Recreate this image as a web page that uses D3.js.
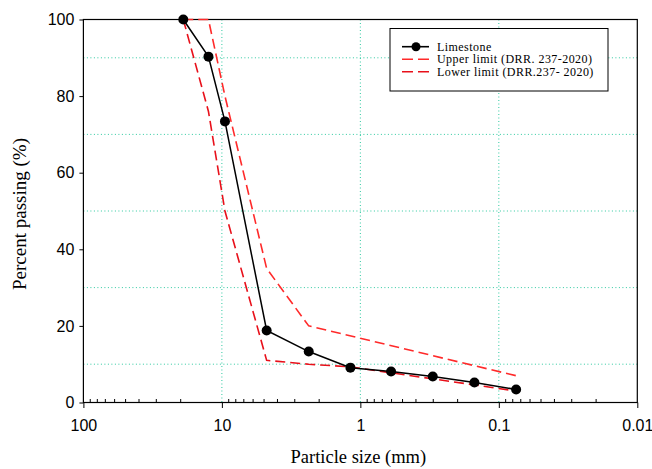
<!DOCTYPE html>
<html>
<head>
<meta charset="utf-8">
<script src="https://cdn.jsdelivr.net/npm/d3@7"></script>
<style>
  html, body { margin: 0; padding: 0; background: #fff; }
  svg { display: block; }
</style>
</head>
<body>
<svg id="chart" width="652" height="469"></svg>
<script>
// Sieve sizes (mm) and percent passing for the limestone aggregate
const sieveSizes = [19, 12.5, 9.5, 4.75, 2.36, 1.18, 0.6, 0.3, 0.15, 0.075];
const limestone  = [100, 90.3, 73.4, 18.8, 13.3, 9.1, 8.1, 6.8, 5.2, 3.4];

// Gradation envelope (DRR 237-2020)
const upperSizes  = [19, 12.5, 9.5, 4.75, 2.36, 0.075];
const upperLimit  = [100, 100, 80, 35, 20, 7];
const lowerSizes  = [19, 12.5, 9.5, 4.75, 2.36, 1.18, 0.075];
const lowerLimit  = [100, 76, 50, 11, 10, 9.3, 3];

// Axis ticks
const xMajorTicks = [100, 10, 1, 0.1, 0.01];
const xTickLabels = ["100", "10", "1", "0.1", "0.01"];
const yMajorTicks = [0, 20, 40, 60, 80, 100];
const yGridValues = [10, 30, 50, 70, 90];
const xGridValues = [10, 1, 0.1];

const legendLabels = ["Limestone", "Upper limit (DRR. 237-2020)", "Lower limit (DRR.237- 2020)"];

const svg = d3.select("#chart");
const plot = { left: 83.4, right: 637.3, top: 19.5, bottom: 402.5 };

const x = d3.scaleLog().domain([100, 0.01]).range([plot.left, plot.right]);
const y = d3.scaleLinear().domain([0, 100]).range([plot.bottom, plot.top]);

const gridColor = "#2ec9a0";

// Dotted grid
svg.append("g").selectAll("line").data(yGridValues).join("line")
  .attr("x1", plot.left).attr("x2", plot.right)
  .attr("y1", d => y(d)).attr("y2", d => y(d))
  .attr("stroke", gridColor).attr("stroke-width", 1)
  .attr("stroke-dasharray", "1,2.5");
svg.append("g").selectAll("line").data(xGridValues).join("line")
  .attr("x1", d => x(d)).attr("x2", d => x(d))
  .attr("y1", plot.top).attr("y2", plot.bottom)
  .attr("stroke", gridColor).attr("stroke-width", 1)
  .attr("stroke-dasharray", "1,2.5");

// Minor x ticks (inside), major x ticks (outside)
const minorX = [];
[100, 10, 1, 0.1].forEach(dec => {
  for (let k = 2; k <= 9; k++) minorX.push(dec / 10 * k);
});
const axisX = svg.append("g").attr("transform", `translate(0,${plot.bottom})`);
axisX.call(d3.axisTop(x).tickValues(minorX).tickSize(3.5).tickFormat(""))
  .call(g => g.select(".domain").remove())
  .call(g => g.selectAll("line").attr("stroke", "#000").attr("stroke-width", 1));
const axisXMajor = svg.append("g").attr("transform", `translate(0,${plot.bottom})`);
axisXMajor.call(d3.axisBottom(x).tickValues(xMajorTicks).tickSize(5.5).tickPadding(12)
    .tickFormat((d, i) => xTickLabels[i]))
  .call(g => g.select(".domain").remove())
  .call(g => g.selectAll("line").attr("stroke", "#000").attr("stroke-width", 1))
  .call(g => g.selectAll("text").attr("fill", "#000")
    .style("font-family", "Liberation Sans, Arial, sans-serif").style("font-size", "16px"));

// Y axis major ticks (outside)
const axisY = svg.append("g").attr("transform", `translate(${plot.left},0)`);
axisY.call(d3.axisLeft(y).tickValues(yMajorTicks).tickSize(4).tickPadding(5))
  .call(g => g.select(".domain").remove())
  .call(g => g.selectAll("line").attr("stroke", "#000").attr("stroke-width", 1))
  .call(g => g.selectAll("text").attr("fill", "#000")
    .style("font-family", "Liberation Sans, Arial, sans-serif").style("font-size", "16px"));

// Frame
svg.append("rect")
  .attr("x", plot.left).attr("y", plot.top)
  .attr("width", plot.right - plot.left).attr("height", plot.bottom - plot.top)
  .attr("fill", "none").attr("stroke", "#000").attr("stroke-width", 1.2);

const line = d3.line().x(d => x(d[0])).y(d => y(d[1]));

// Envelope lines
svg.append("path")
  .datum(upperSizes.map((s, i) => [s, upperLimit[i]]))
  .attr("d", line).attr("fill", "none")
  .attr("stroke", "#ff2a2a").attr("stroke-width", 1.6)
  .attr("stroke-dasharray", "10,5");
svg.append("path")
  .datum(lowerSizes.map((s, i) => [s, lowerLimit[i]]))
  .attr("d", line).attr("fill", "none")
  .attr("stroke", "#e8101a").attr("stroke-width", 1.6)
  .attr("stroke-dasharray", "10,5");

// Limestone curve
const lsData = sieveSizes.map((s, i) => [s, limestone[i]]);
svg.append("path").datum(lsData)
  .attr("d", line).attr("fill", "none")
  .attr("stroke", "#000").attr("stroke-width", 1.5);
svg.append("g").selectAll("circle").data(lsData).join("circle")
  .attr("cx", d => x(d[0])).attr("cy", d => y(d[1]))
  .attr("r", 5).attr("fill", "#000");

// Axis titles
svg.append("text")
  .attr("x", (plot.left + plot.right) / 2 - 2).attr("y", 463)
  .attr("text-anchor", "middle")
  .style("font-family", "Liberation Serif, Times New Roman, serif").style("font-size", "18.5px")
  .text("Particle size (mm)");
svg.append("text")
  .attr("transform", `translate(26,${(plot.top + plot.bottom) / 2 + 3}) rotate(-90)`)
  .attr("text-anchor", "middle")
  .style("font-family", "Liberation Serif, Times New Roman, serif").style("font-size", "19px")
  .text("Percent passing (%)");

// Legend
const legend = svg.append("g");
legend.append("rect")
  .attr("x", 390).attr("y", 28.5).attr("width", 218).attr("height", 62.5)
  .attr("fill", "#fff").attr("stroke", "#000").attr("stroke-width", 1);
const rowY = [46.7, 59.2, 71.7];
const styles = [
  { stroke: "#000", dash: null },
  { stroke: "#ff2a2a", dash: "11,5" },
  { stroke: "#e8101a", dash: "11,5" }
];
legendLabels.forEach((lab, i) => {
  legend.append("line")
    .attr("x1", 402).attr("x2", 429).attr("y1", rowY[i]).attr("y2", rowY[i])
    .attr("stroke", styles[i].stroke).attr("stroke-width", 1.6)
    .attr("stroke-dasharray", styles[i].dash);
  if (i === 0) {
    legend.append("circle").attr("cx", 416).attr("cy", rowY[i]).attr("r", 4.5).attr("fill", "#000");
  }
  legend.append("text")
    .attr("x", 437).attr("y", rowY[i] + 4)
    .style("font-family", "Liberation Serif, Times New Roman, serif").style("font-size", "12px")
    .style("letter-spacing", "0.45px")
    .text(lab);
});
</script>
</body>
</html>
